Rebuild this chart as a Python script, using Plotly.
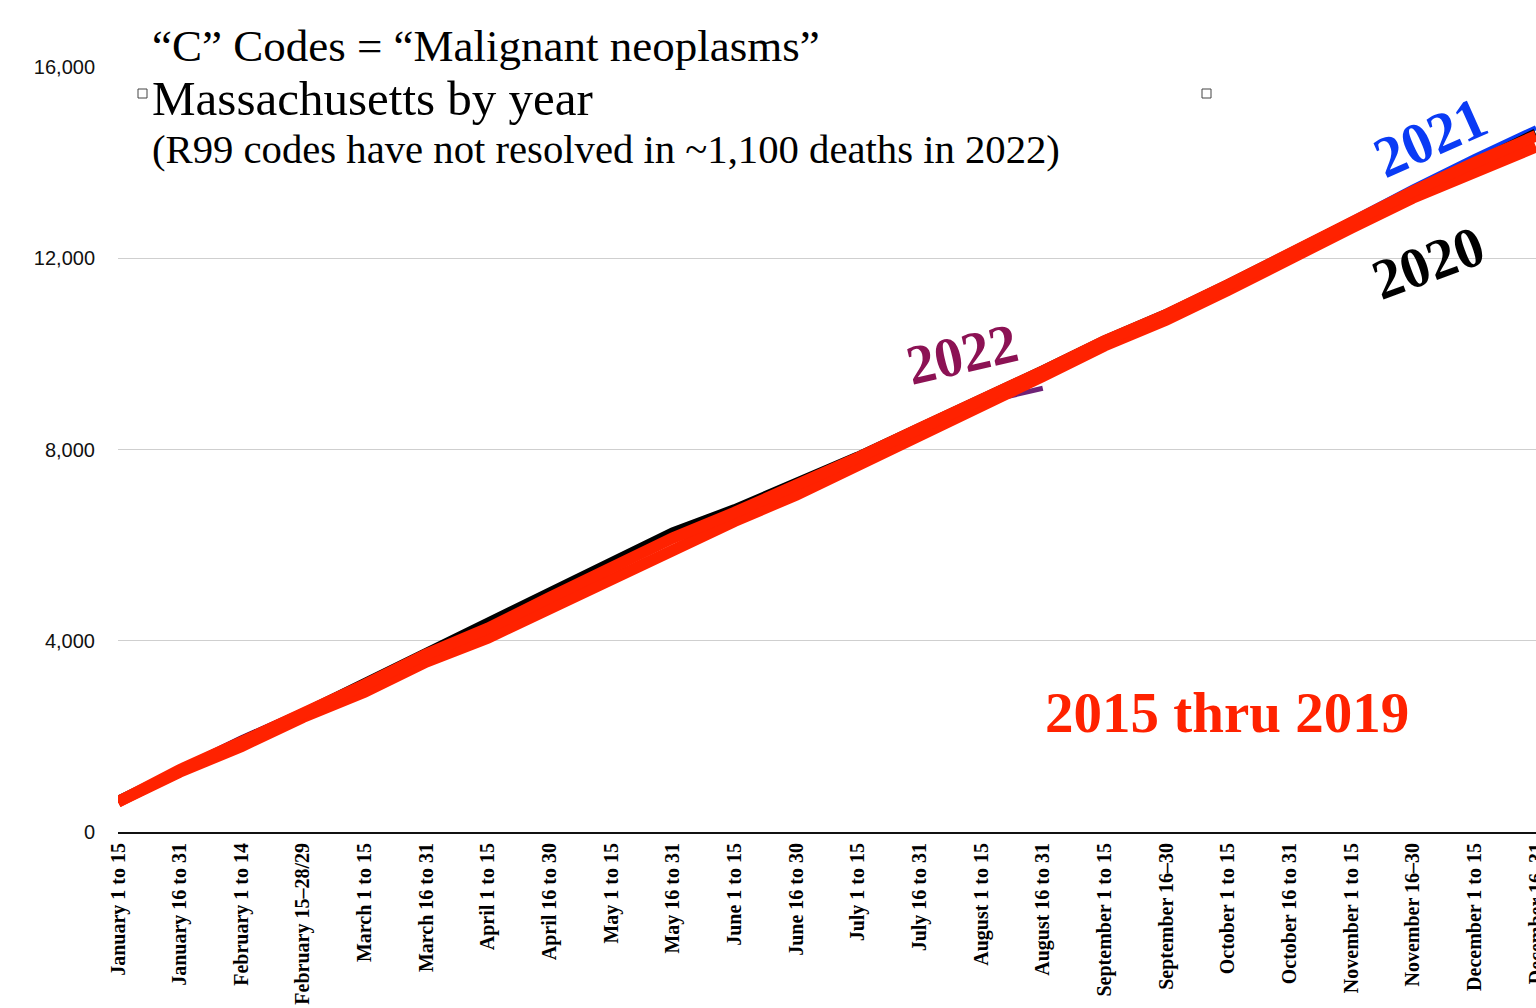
import plotly.graph_objects as go

# Half-month reporting periods
periods = [
    "January 1 to 15", "January 16 to 31", "February 1 to 14", "February 15–28/29",
    "March 1 to 15", "March 16 to 31", "April 1 to 15", "April 16 to 30",
    "May 1 to 15", "May 16 to 31", "June 1 to 15", "June 16 to 30",
    "July 1 to 15", "July 16 to 31", "August 1 to 15", "August 16 to 31",
    "September 1 to 15", "September 16–30", "October 1 to 15", "October 16 to 31",
    "November 1 to 15", "November 16–30", "December 1 to 15", "December 16–31",
]

# Cumulative "C" code (malignant neoplasm) deaths, Massachusetts
baseline_upper = [630, 1300, 1880, 2450, 3080, 3720, 4260, 4900, 5500, 6150, 6680, 7230,
                  7830, 8440, 9020, 9640, 10270, 10820, 11440, 12110, 12740, 13400, 14000, 14560]
baseline_lower = [630, 1255, 1790, 2400, 2930, 3560, 4060, 4680, 5260, 5930, 6500, 7050,
                  7660, 8290, 8890, 9530, 10170, 10710, 11330, 12000, 12630, 13260, 13780, 14330]
deaths_2020 = [640, 1290, 1890, 2470, 3100, 3700, 4330, 4990, 5600, 6260, 6740, 7260,
               7840, 8440, 9020, 9640, 10270, 10820, 11440, 12110, 12740, 13330, 13950, 14600]
deaths_2021 = [650, 1320, 1920, 2500, 3090, 3740, 4300, 4900, 5500, 6150, 6700, 7250,
               7850, 8450, 9040, 9660, 10290, 10840, 11460, 12140, 12800, 13490, 14130, 14730]
deaths_2022 = [640, 1340, 1970, 2540, 3060, 3700, 4300, 4900, 5480, 6100, 6650, 7200,
               7800, 8400, 8980, 9280]

y_ticks = [0, 4000, 8000, 12000, 16000]

W, H = 1536, 1008
PLOT_L, PLOT_R, PLOT_T, PLOT_B = 118, 1536, 67, 832

RED = "#FF2200"
BLUE = "#0A3BF5"
PURPLE_LINE = "#6E2377"
PURPLE_TEXT = "#8C1254"


def px(x):
    return (x - PLOT_L) / (PLOT_R - PLOT_L)


def py(y):
    return (PLOT_B - y) / (PLOT_B - PLOT_T)


fig = go.Figure()
fig.add_trace(go.Scatter(x=periods[:len(deaths_2022)], y=deaths_2022, mode="lines",
                         line=dict(color=PURPLE_LINE, width=5), name="2022"))
fig.add_trace(go.Scatter(x=periods, y=deaths_2021, mode="lines",
                         line=dict(color=BLUE, width=5), name="2021"))
fig.add_trace(go.Scatter(x=periods, y=deaths_2020, mode="lines",
                         line=dict(color="#000000", width=11), name="2020"))
fig.add_trace(go.Scatter(x=periods, y=baseline_lower, mode="lines",
                         line=dict(color=RED, width=11.5), name="2015 thru 2019"))
fig.add_trace(go.Scatter(x=periods, y=baseline_upper, mode="lines",
                         line=dict(color=RED, width=11.5), name="2015 thru 2019"))

serif = "Liberation Serif, Times New Roman, serif"

annotations = [
    dict(x=px(150), y=py(46), text="“C” Codes = “Malignant neoplasms”", xanchor="left",
         font=dict(family=serif, size=45, color="black")),
    dict(x=px(150), y=py(99), text="Massachusetts by year", xanchor="left",
         font=dict(family=serif, size=49, color="black")),
    dict(x=px(150), y=py(150), text="(R99 codes have not resolved in ~1,100 deaths in 2022)",
         xanchor="left", font=dict(family=serif, size=40.7, color="black")),
    dict(x=px(1430), y=py(137), text="2021", textangle=-24, xanchor="center",
         font=dict(family=serif, size=58, color=BLUE, weight="bold")),
    dict(x=px(1428), y=py(262), text="2020", textangle=-20, xanchor="center",
         font=dict(family=serif, size=57, color="black", weight="bold")),
    dict(x=px(962), y=py(354), text="2022", textangle=-13, xanchor="center",
         font=dict(family=serif, size=56, color=PURPLE_TEXT, weight="bold")),
    dict(x=px(1227), y=py(712), text="2015 thru 2019", xanchor="center",
         font=dict(family=serif, size=57, color=RED, weight="bold")),
]
for a in annotations:
    a.update(xref="paper", yref="paper", yanchor="middle", showarrow=False)

shapes = [
    # white text box over the top gridline
    dict(type="rect", xref="paper", yref="paper", x0=px(140), x1=px(1206), y0=py(178), y1=py(16),
         fillcolor="white", line=dict(width=0), layer="above"),
    dict(type="rect", xref="paper", yref="paper", x0=px(138), x1=px(147), y0=py(98), y1=py(89),
         fillcolor="white", line=dict(color="#444", width=1), layer="above"),
    dict(type="rect", xref="paper", yref="paper", x0=px(1202), x1=px(1211), y0=py(98), y1=py(89),
         fillcolor="white", line=dict(color="#444", width=1), layer="above"),
]

fig.update_layout(
    width=W, height=H,
    margin=dict(l=PLOT_L, r=W - PLOT_R, t=PLOT_T, b=H - PLOT_B, pad=0),
    paper_bgcolor="white", plot_bgcolor="white",
    showlegend=False,
    annotations=annotations,
    shapes=shapes,
    xaxis=dict(
        type="category", range=[0, len(periods) - 1], tickangle=-90,
        tickfont=dict(family=serif, size=20, color="black", weight="bold"),
        showgrid=False, showline=True, linecolor="#111", linewidth=2,
        ticks="", ticklabelstandoff=1, automargin=False, zeroline=False,
    ),
    yaxis=dict(
        range=[0, 16000], tickvals=y_ticks, tickformat=",",
        tickfont=dict(family="Liberation Sans, Arial, Helvetica, sans-serif", size=20, color="#111"),
        showgrid=True, gridcolor="#cfcfcf", gridwidth=1,
        zeroline=False, showline=False, ticks="", ticklabelstandoff=22, automargin=False,
    ),
)

fig.write_html("out.html")
